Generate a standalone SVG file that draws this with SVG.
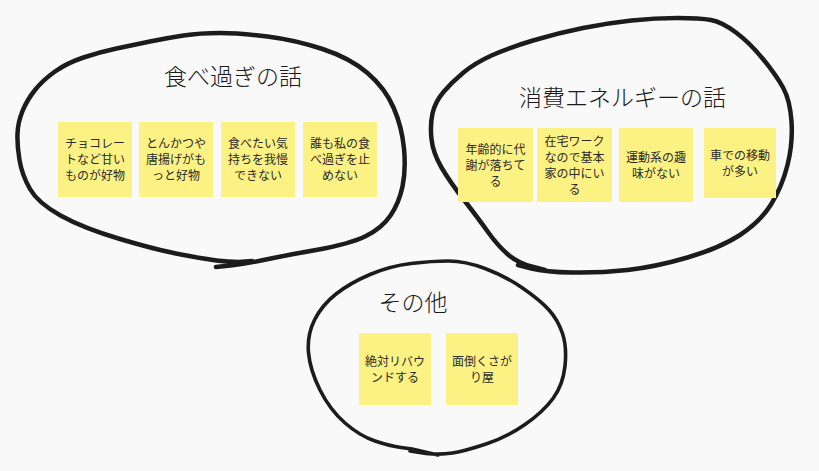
<svg xmlns="http://www.w3.org/2000/svg" width="819" height="471" viewBox="0 0 819 471">
<style>
.bg{fill:#f9f9f9}
.loop{fill:none;stroke:#1c1c1c;stroke-width:4.5;stroke-linecap:round;stroke-linejoin:round}
.thin{stroke-width:3.6}
.note{fill:#fcf183}
.nt{font-family:"Noto Sans CJK JP","Noto Sans",sans-serif;font-size:12px;fill:#2a2a2a;text-anchor:middle}
.title{font-family:"Noto Sans CJK JP","Noto Sans",sans-serif;font-size:23px;font-weight:300;fill:#1a1a1a;text-anchor:middle}
</style>
<rect class="bg" x="0" y="0" width="819" height="471"/>
<g id="connectors">
<path id="loop-left" class="loop" d="M216,267 L230.5,265.5 Q245,264 263.5,260 Q282,256 316,250 Q350,244 366,236 Q382,228 390.5,215.5 Q399,203 402.5,186.5 Q406,170 404,148.5 Q402,127 393.5,107.5 Q385,88 367.5,73 Q350,58 322.5,49 Q295,40 267.5,36.5 Q240,33 220,33 Q200,33 183.5,35.5 Q167,38 150,41.5 Q133,45 116.5,48.5 Q100,52 83.5,57.5 Q67,63 55,71.5 Q43,80 35,90 Q27,100 22.5,111 Q18,122 17.5,133.5 Q17,145 19.5,160 Q22,175 30,189 Q38,203 60.5,215.5 Q83,228 120,239 Q157,250 181,254.5 Q205,259 216.5,260.5 Q228,262 239,262 L252,261"/>
<path id="loop-right" class="loop" d="M518,265 L531.5,268.5 Q545,272 572.5,272.5 Q600,273 627.5,270 Q655,267 687.5,257.5 Q720,248 740,235 Q760,222 771,204.5 Q782,187 787.5,165 Q793,143 791.5,121.5 Q790,100 783,87.5 Q776,75 763,59 Q750,43 736,32.5 Q722,22 711,20 Q700,18 677.5,18 Q655,18 631.5,20.5 Q608,23 583,28 Q558,33 533,40.5 Q508,48 491.5,55.5 Q475,63 463.5,72.5 Q452,82 443.5,92 Q435,102 432.5,113.5 Q430,125 431.5,139 Q433,153 441.5,167.5 Q450,182 464,200 Q478,218 488,232 Q498,246 508,254.5 Q518,263 531.5,266.5 L545,270"/>
<path id="loop-bottom" class="loop thin" d="M438,455 L412,449 L401,447.5 Q390,446 375,441 Q360,436 345,423 Q330,410 320,390 Q310,370 308.5,352.5 Q307,335 314.5,320 Q322,305 336,294 Q350,283 370,274.5 Q390,266 411,263.5 Q432,261 448.5,261 Q465,261 485,268.5 Q505,276 522.5,288 Q540,300 549,310 Q558,320 562.5,333.5 Q567,347 565,366 Q563,385 553,398.5 Q543,412 525,424.5 Q507,437 486,444 Q465,451 452.5,453 Q440,455 426,453.5 L410,451"/>
</g>
<g id="title-overeating"><text class="title" x="233" y="85">食べ過ぎの話</text></g>
<g id="title-energy"><text class="title" x="622.5" y="106">消費エネルギーの話</text></g>
<g id="title-other"><text class="title" x="413" y="311">その他</text></g>
<g id="note-1"><rect class="note" x="58" y="122" width="74" height="75"/><text class="nt" x="95"><tspan x="95" y="148">チョコレー</tspan><tspan x="95" y="164">トなど甘い</tspan><tspan x="95" y="180">ものが好物</tspan></text></g>
<g id="note-2"><rect class="note" x="139" y="122" width="74" height="75"/><text class="nt" x="176"><tspan x="176" y="148">とんかつや</tspan><tspan x="176" y="164">唐揚げがも</tspan><tspan x="176" y="180">っと好物</tspan></text></g>
<g id="note-3"><rect class="note" x="221" y="122" width="74" height="75"/><text class="nt" x="258"><tspan x="258" y="148">食べたい気</tspan><tspan x="258" y="164">持ちを我慢</tspan><tspan x="258" y="180">できない</tspan></text></g>
<g id="note-4"><rect class="note" x="303" y="122" width="74" height="75"/><text class="nt" x="340"><tspan x="340" y="148">誰も私の食</tspan><tspan x="340" y="164">べ過ぎを止</tspan><tspan x="340" y="180">めない</tspan></text></g>
<g id="note-5"><rect class="note" x="458" y="128" width="75" height="74"/><text class="nt" x="495.5"><tspan x="495.5" y="154">年齢的に代</tspan><tspan x="495.5" y="170">謝が落ちて</tspan><tspan x="495.5" y="186">る</tspan></text></g>
<g id="note-6"><rect class="note" x="537" y="128" width="75" height="74"/><text class="nt" x="574.5"><tspan x="574.5" y="146">在宅ワーク</tspan><tspan x="574.5" y="162">なので基本</tspan><tspan x="574.5" y="178">家の中にい</tspan><tspan x="574.5" y="194">る</tspan></text></g>
<g id="note-7"><rect class="note" x="619" y="128" width="74" height="74"/><text class="nt" x="656"><tspan x="656" y="162">運動系の趣</tspan><tspan x="656" y="178">味がない</tspan></text></g>
<g id="note-8"><rect class="note" x="704" y="128" width="72" height="70"/><text class="nt" x="740"><tspan x="740" y="160">車での移動</tspan><tspan x="740" y="176">が多い</tspan></text></g>
<g id="note-9"><rect class="note" x="359" y="333" width="72" height="72"/><text class="nt" x="395"><tspan x="395" y="365.5">絶対リバウ</tspan><tspan x="395" y="381.5">ンドする</tspan></text></g>
<g id="note-10"><rect class="note" x="446" y="333" width="72" height="72"/><text class="nt" x="482"><tspan x="482" y="365.5">面倒くさが</tspan><tspan x="482" y="381.5">り屋</tspan></text></g>
</svg>
